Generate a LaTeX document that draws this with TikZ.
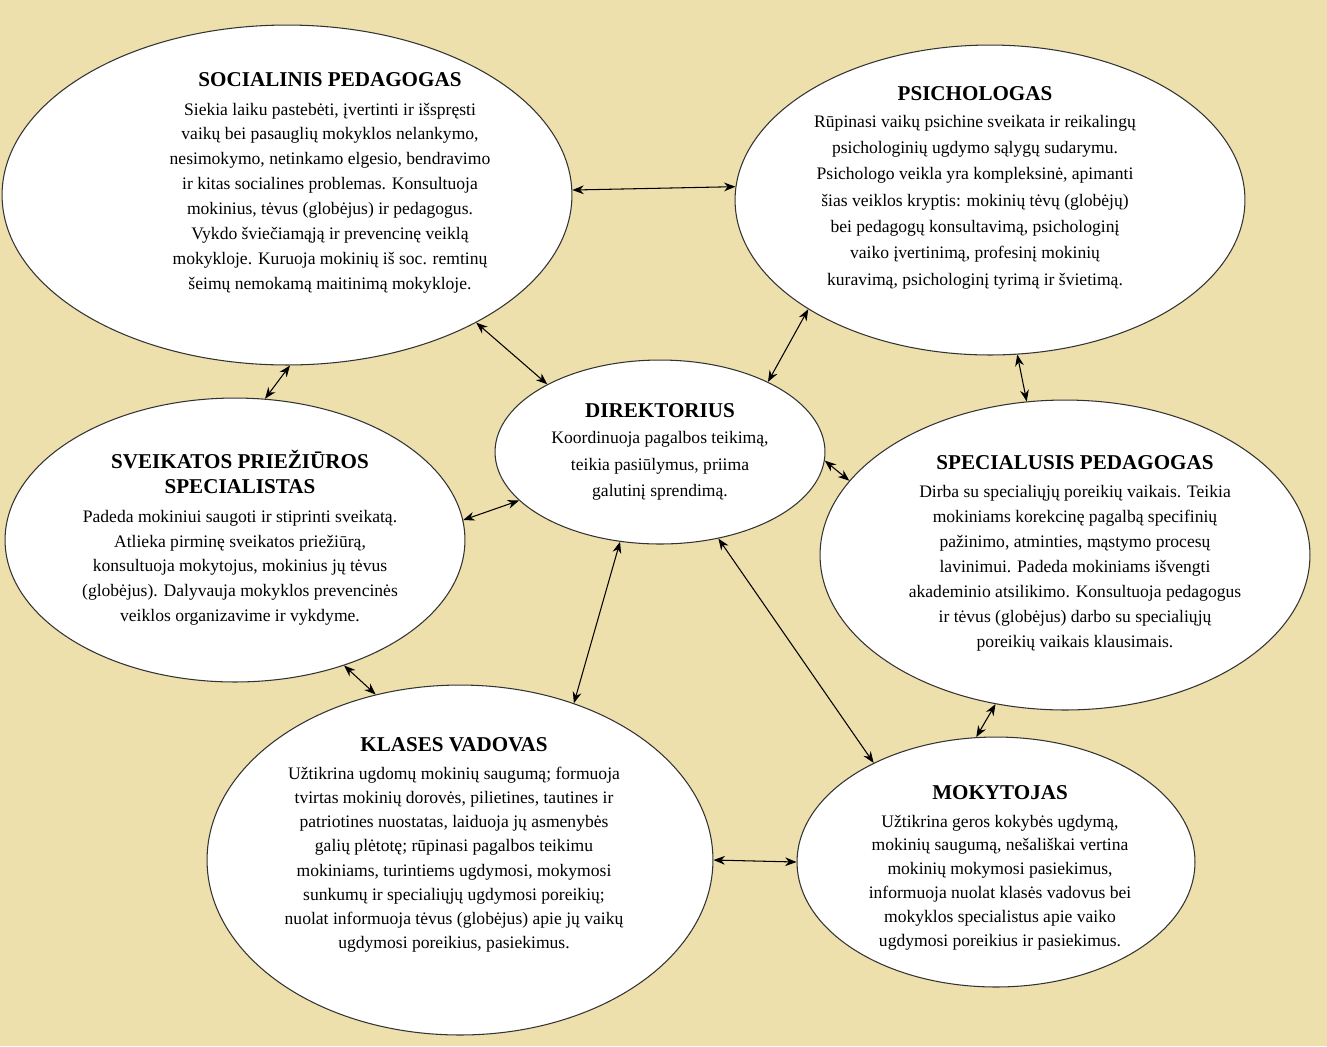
\documentclass[tikz,border=0pt]{standalone}
\usepackage{fontspec}
\setmainfont{Liberation Serif}
\usetikzlibrary{shapes.geometric,arrows.meta}
\definecolor{paper}{RGB}{237,224,173}
\newcommand{\rolename}[1]{{\fontsize{12}{14}\selectfont\bfseries #1}}

\begin{document}
\begin{tikzpicture}[x=0.02cm,y=-0.02cm,
  oval/.style={ellipse,draw=black!80,line width=0.6pt,fill=white,inner sep=0pt},
  info/.style={align=center,inner sep=0pt,font=\fontsize{10}{14.2}\selectfont},
  link/.style={{Stealth[length=6.5pt,width=5pt]}-{Stealth[length=6.5pt,width=5pt]},line width=0.6pt}]
\fill[paper] (0,0) rectangle (1327,1046);

\node[oval,minimum width=11.4cm,minimum height=6.8cm] (soc) at (287,195) {};
\node[oval,minimum width=10.2cm,minimum height=6.2cm] (psy) at (990,200) {};
\node[oval,minimum width=6.6cm,minimum height=3.68cm] (dir) at (660,452) {};
\node[oval,minimum width=9.2cm,minimum height=5.68cm] (sve) at (235,540) {};
\node[oval,minimum width=9.8cm,minimum height=6.2cm] (spe) at (1065,555) {};
\node[oval,minimum width=10.12cm,minimum height=7cm] (kla) at (460,860) {};
\node[oval,minimum width=7.96cm,minimum height=5cm] (mok) at (996,862) {};

\node[info] (soc-txt) at (330,183) {\rolename{SOCIALINIS PEDAGOGAS}\\[2pt]
Siekia laiku pastebėti, įvertinti ir išspręsti\\
vaikų bei pasauglių mokyklos nelankymo,\\
nesimokymo, netinkamo elgesio, bendravimo\\
ir kitas socialines problemas. Konsultuoja\\
mokinius, tėvus (globėjus) ir pedagogus.\\
Vykdo šviečiamąją ir prevencinę veiklą\\
mokykloje. Kuruoja mokinių iš soc. remtinų\\
šeimų nemokamą maitinimą mokykloje.};
\node[info,font=\fontsize{10}{15}\selectfont] (psy-txt) at (975,188) {\rolename{PSICHOLOGAS}\\
Rūpinasi vaikų psichine sveikata ir reikalingų\\
psichologinių ugdymo sąlygų sudarymu.\\
Psichologo veikla yra kompleksinė, apimanti\\
šias veiklos kryptis: mokinių tėvų (globėjų)\\
bei pedagogų konsultavimą, psichologinį\\
vaiko įvertinimą, profesinį mokinių\\
kuravimą, psichologinį tyrimą ir švietimą.};
\node[info,font=\fontsize{10}{15}\selectfont] (dir-txt) at (660,452) {\rolename{DIREKTORIUS}\\
Koordinuoja pagalbos teikimą,\\
teikia pasiūlymus, priima\\
galutinį sprendimą.};
\node[info] (sve-txt) at (240,538) {\rolename{SVEIKATOS PRIEŽIŪROS}\\
\rolename{SPECIALISTAS}\\[2pt]
Padeda mokiniui saugoti ir stiprinti sveikatą.\\
Atlieka pirminę sveikatos priežiūrą,\\
konsultuoja mokytojus, mokinius jų tėvus\\
(globėjus). Dalyvauja mokyklos prevencinės\\
veiklos organizavime ir vykdyme.};
\node[info] (spe-txt) at (1075,553) {\rolename{SPECIALUSIS PEDAGOGAS}\\[2pt]
Dirba su specialiųjų poreikių vaikais. Teikia\\
mokiniams korekcinę pagalbą specifinių\\
pažinimo, atminties, mąstymo procesų\\
lavinimui. Padeda mokiniams išvengti\\
akademinio atsilikimo. Konsultuoja pedagogus\\
ir tėvus (globėjus) darbo su specialiųjų\\
poreikių vaikais klausimais.};
\node[info,font=\fontsize{10}{13.8}\selectfont] (kla-txt) at (454,845) {\rolename{KLASES VADOVAS}\\[2pt]
Užtikrina ugdomų mokinių saugumą; formuoja\\
tvirtas mokinių dorovės, pilietines, tautines ir\\
patriotines nuostatas, laiduoja jų asmenybės\\
galių plėtotę; rūpinasi pagalbos teikimu\\
mokiniams, turintiems ugdymosi, mokymosi\\
sunkumų ir specialiųjų ugdymosi poreikių;\\
nuolat informuoja tėvus (globėjus) apie jų vaikų\\
ugdymosi poreikius, pasiekimus.};
\node[info,font=\fontsize{10}{13.6}\selectfont] (mok-txt) at (1000,868) {\rolename{MOKYTOJAS}\\[2pt]
Užtikrina geros kokybės ugdymą,\\
mokinių saugumą, nešališkai vertina\\
mokinių mokymosi pasiekimus,\\
informuoja nuolat klasės vadovus bei\\
mokyklos specialistus apie vaiko\\
ugdymosi poreikius ir pasiekimus.};

\draw[link] (soc.1) -- (psy.177);
\draw[link] (soc.-34) -- (dir.149);
\draw[link] (psy.-149) -- (dir.33);
\draw[link] (psy.-80) -- (spe.104);
\draw[link] (soc.-89) -- (sve.78);
\draw[link] (sve.5) -- (dir.-161);
\draw[link] (dir.-3) -- (spe.161);
\draw[link] (dir.-114) -- (kla.54);
\draw[link] (dir.-56) -- (mok.141);
\draw[link] (sve.-49) -- (kla.117);
\draw[link] (spe.-115) -- (mok.99);
\draw[link] (kla.0) -- (mok.180);
\end{tikzpicture}
\end{document}
